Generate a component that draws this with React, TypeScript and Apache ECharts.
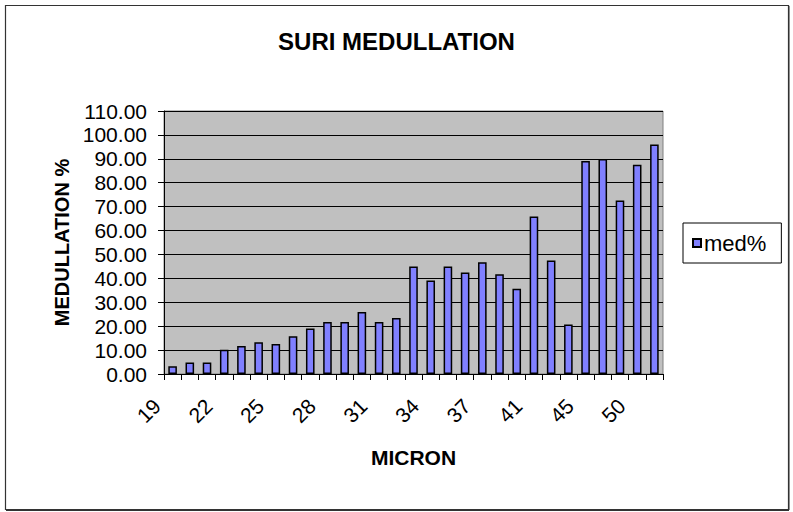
import React, { useEffect, useRef } from "react";
import * as echarts from "echarts";

const titleText = "SURI MEDULLATION";
const seriesName = "med%";
const xAxisTitle = "MICRON";
const yAxisTitle = "MEDULLATION %";

const microns = [
  "19", "20", "21", "22", "23", "24", "25", "26", "27", "28",
  "29", "30", "31", "32", "33", "34", "35", "36", "37", "38",
  "39", "41", "42", "43", "45", "46", "48", "50", "52",
];

const medullation = [
  3.2, 4.8, 4.8, 10.1, 11.7, 13.3, 12.5, 15.8, 19.0, 21.8,
  21.8, 25.9, 21.8, 23.4, 45.0, 39.1, 45.0, 42.5, 46.7, 41.7,
  35.7, 65.9, 47.5, 20.7, 89.1, 89.9, 72.6, 87.5, 96.0,
];

const yMin = 0;
const yMax = 110;
const yStep = 10;

const FONT = "'Liberation Sans', Arial, sans-serif";

export default function App() {
  const ref = useRef<HTMLDivElement>(null);

  useEffect(() => {
    if (!ref.current) return;
    const chart = echarts.init(ref.current, null, { renderer: "svg" });
    chart.setOption({
      animation: false,
      backgroundColor: "#ffffff",
      textStyle: { fontFamily: FONT, color: "#000" },
      title: {
        text: titleText,
        left: "center",
        top: 24,
        textStyle: { fontFamily: FONT, fontSize: 24, fontWeight: "bold", color: "#000" },
      },
      legend: {
        left: 683,
        top: 223,
        orient: "vertical",
        data: [seriesName],
        icon: "rect",
        itemWidth: 8,
        itemHeight: 8,
        itemGap: 4,
        padding: [9, 15, 9, 9],
        borderColor: "#000",
        borderWidth: 1,
        backgroundColor: "#fff",
        textStyle: { fontFamily: FONT, fontSize: 22, color: "#000", padding: [0, 0, 0, -2] },
      },
      grid: {
        left: 164,
        top: 111,
        right: 130,
        bottom: 138,
        show: true,
        backgroundColor: "#C0C0C0",
        borderColor: "#808080",
        borderWidth: 1,
      },
      xAxis: {
        type: "category",
        data: microns,
        boundaryGap: true,
        name: xAxisTitle,
        nameLocation: "middle",
        nameGap: 73,
        nameMoveOverlap: false,
        nameTextStyle: { fontFamily: FONT, fontSize: 21, fontWeight: "bold", color: "#000" },
        axisLine: { show: true, lineStyle: { color: "#000", width: 1 } },
        axisTick: { show: true, interval: 0, length: 6, lineStyle: { color: "#000" } },
        axisLabel: {
          interval: 2,
          rotate: 45,
          margin: 13,
          padding: [0, 22, 0, 0],
          fontFamily: FONT,
          fontSize: 21,
          color: "#000",
        },
        splitLine: { show: false },
      },
      yAxis: {
        type: "value",
        min: yMin,
        max: yMax,
        interval: yStep,
        name: yAxisTitle,
        nameLocation: "middle",
        nameGap: 56,
        nameRotate: 90,
        nameTextStyle: { fontFamily: FONT, fontSize: 20, fontWeight: "bold", color: "#000" },
        axisLine: { show: true, lineStyle: { color: "#000", width: 1 } },
        axisTick: { show: true, length: 6, lineStyle: { color: "#000" } },
        axisLabel: {
          margin: 17,
          fontFamily: FONT,
          fontSize: 21,
          color: "#000",
          formatter: (v: number) => v.toFixed(2),
        },
        splitLine: { show: true, lineStyle: { color: "#000", width: 1 } },
      },
      series: [
        {
          name: seriesName,
          type: "bar",
          data: medullation,
          barWidth: "50%",
          itemStyle: { color: "#8080FF", borderColor: "#000", borderWidth: 1.5 },
        },
      ],
      graphic: [
        {
          type: "rect",
          shape: { x: 5.5, y: 5.5, width: 783, height: 504 },
          style: { fill: "none", stroke: "#333", lineWidth: 1.2 },
          silent: true,
        },
        {
          type: "line",
          shape: { x1: 789, y1: 6, x2: 789, y2: 510 },
          style: { stroke: "#333", lineWidth: 1 },
          silent: true,
        },
        {
          type: "line",
          shape: { x1: 6, y1: 510.5, x2: 789, y2: 510.5 },
          style: { stroke: "#333", lineWidth: 1 },
          silent: true,
        },
      ],
    });
    return () => chart.dispose();
  }, []);

  return (
    <div
      ref={ref}
      style={{ position: "fixed", left: 0, top: 0, width: 793, height: 512 }}
    />
  );
}
